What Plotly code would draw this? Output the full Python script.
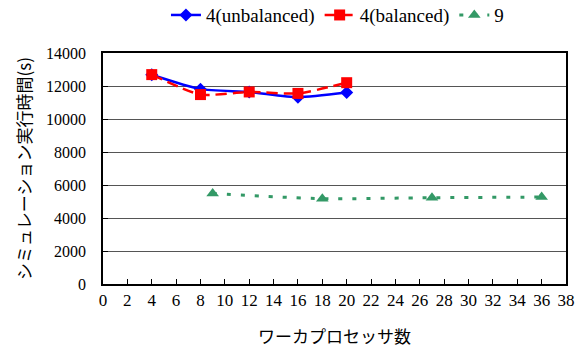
import plotly.graph_objects as go

x_unbal = [4, 8, 12, 16, 20]
y_unbal = [12680, 11810, 11640, 11320, 11600]
x_bal = [4, 8, 12, 16, 20]
y_bal = [12690, 11480, 11640, 11550, 12200]
x_nine = [9, 18, 27, 36]
y_nine = [5480, 5170, 5230, 5270]

names = ["4(unbalanced)", "4(balanced)", "9"]
x_title = "ワーカプロセッサ数"
y_title = "シミュレーション実行時間(s)"

serif = "Liberation Serif, Times New Roman, serif"
jp = "Noto Sans CJK JP"

fig = go.Figure()
fig.add_trace(go.Scatter(
    x=x_unbal, y=y_unbal, name=names[0], mode="lines+markers",
    line=dict(color="#0000FF", width=2.5, shape="spline", smoothing=0.6),
    marker=dict(symbol="diamond", size=10, color="#0000FF")))
fig.add_trace(go.Scatter(
    x=x_bal, y=y_bal, name=names[1], mode="lines+markers",
    line=dict(color="#FF0000", width=2.5, dash="11px,6px", shape="spline", smoothing=0.6),
    marker=dict(symbol="square", size=11, color="#FF0000")))
fig.add_trace(go.Scatter(
    x=x_nine, y=y_nine, name=names[2], mode="lines+markers",
    line=dict(color="#339966", width=3, dash="4px,10px", shape="spline", smoothing=0.6),
    marker=dict(symbol="triangle-up", size=11, color="#339966")))

fig.update_layout(
    width=583, height=354,
    margin=dict(l=103, r=17, t=53, b=70, autoexpand=False),
    paper_bgcolor="white", plot_bgcolor="white",
    font=dict(family=serif, size=16, color="black"),
    showlegend=True,
    legend=dict(orientation="h", x=0.136, xanchor="left", y=1.164, yanchor="middle",
                font=dict(family=serif, size=19), bgcolor="rgba(0,0,0,0)",
                itemwidth=30, tracegroupgap=0),
)
fig.update_xaxes(
    range=[0, 38], dtick=2, tick0=0, automargin=False, tickangle=0,
    showgrid=False, zeroline=False,
    showline=True, linecolor="black", linewidth=1.5, mirror=True,
    ticks="inside", ticklen=5, tickcolor="black",
    tickfont=dict(family=serif, size=17),
    title=dict(text=x_title, font=dict(family=jp, size=17), standoff=22),
)
fig.update_yaxes(
    range=[0, 14000], dtick=2000, tick0=0, tickformat="d", automargin=False,
    showgrid=True, gridcolor="#555555", gridwidth=1, zeroline=False,
    showline=True, linecolor="black", linewidth=1.5, mirror=True,
    ticks="inside", ticklen=5, tickcolor="black",
    tickfont=dict(family=serif, size=16),
    ticklabelstandoff=12,
    title=dict(text=y_title, font=dict(family=jp, size=17), standoff=10),
)

fig.write_html("out.html", config={"displayModeBar": False},
               post_script="document.body.style.margin='0';")
